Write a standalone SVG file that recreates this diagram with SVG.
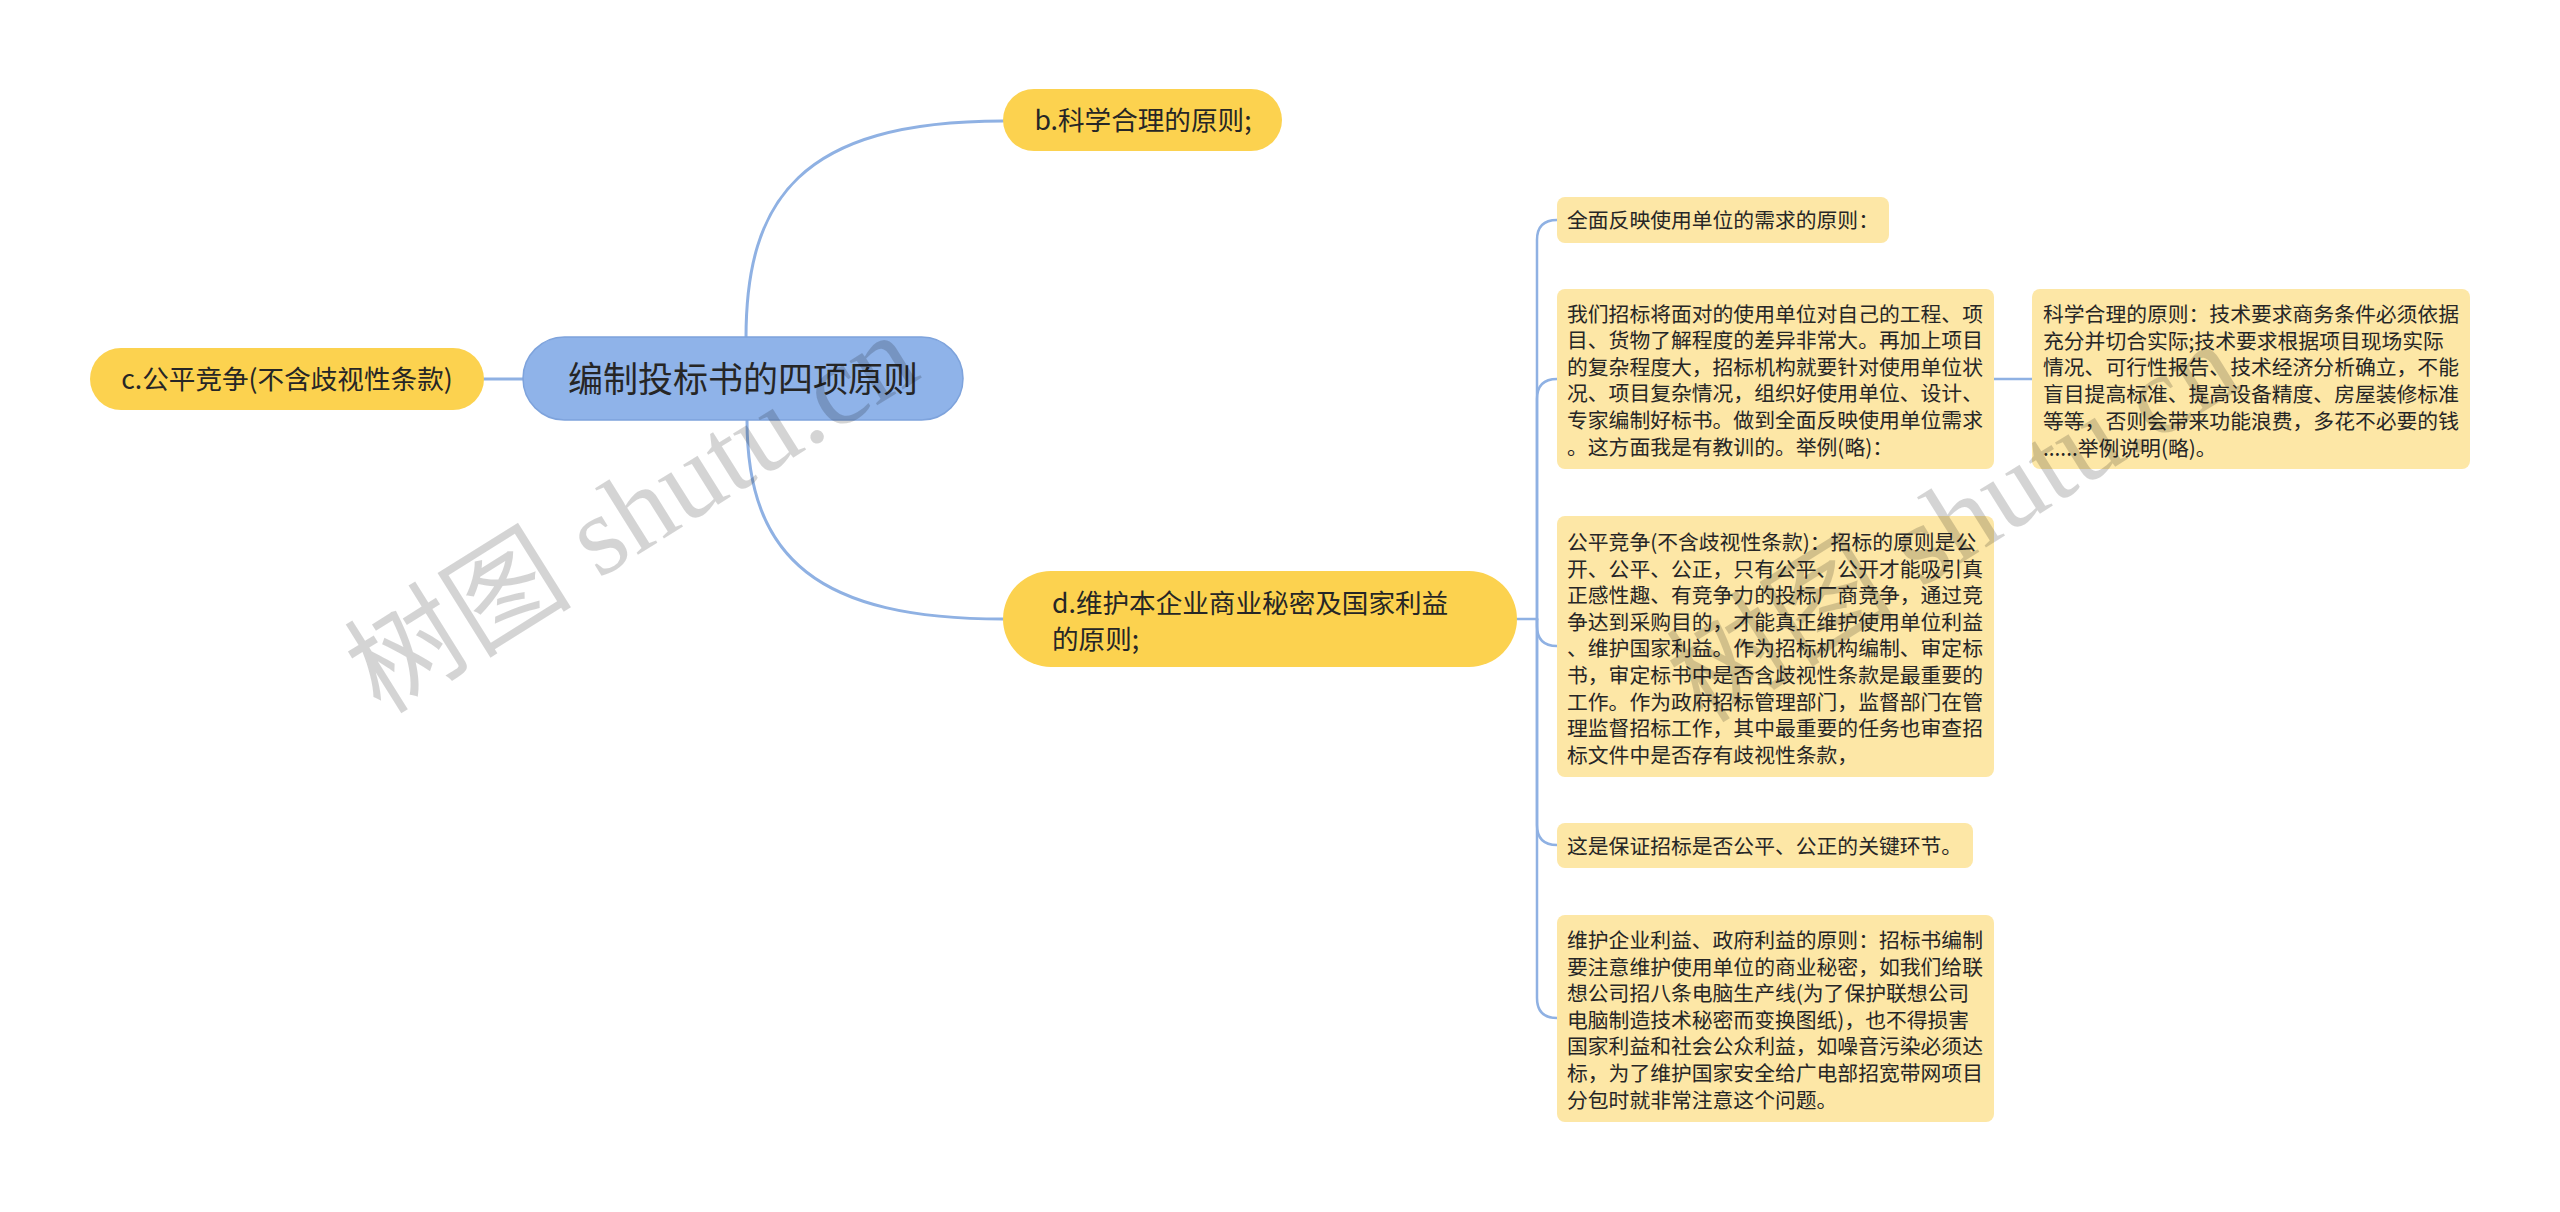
<svg xmlns="http://www.w3.org/2000/svg" width="2560" height="1212" viewBox="0 0 2560 1212">
<style>
.bg{fill:#ffffff}
.root{fill:#8fb3e9;stroke:#7ea3dc;stroke-width:1.5}
.branch{fill:#fcd24f}
.leaf{fill:#fde7a6}
.t{font-family:"Noto Sans CJK SC","Liberation Sans",sans-serif;fill:#262626}
.rt{font-size:35px}
.bt{font-size:26.6px}
.lt{font-size:20.8px}
.line{fill:none;stroke:#8fb1e3;stroke-width:3;stroke-linecap:round}
.thin{stroke-width:2.5}
.wm{font-family:"Liberation Serif","Noto Sans CJK SC",serif;font-size:114px;fill:#000;fill-opacity:0.17}
</style>
<rect class="bg" x="0" y="0" width="2560" height="1212"/>
<g id="connectors">
<path class="line" d="M484 379 L523 379"/>
<path class="line" d="M746 338 C746 200 800 121 1003 121"/>
<path class="line" d="M747 420 C747 560 820 619 1003 619"/>
<path class="line thin" d="M1517 619 H1537 V240 Q1537 220 1557 220"/>
<path class="line thin" d="M1537 619 V399 Q1537 379 1557 379"/>
<path class="line thin" d="M1537 619 V626 Q1537 646 1557 646"/>
<path class="line thin" d="M1537 619 V825 Q1537 845 1557 845"/>
<path class="line thin" d="M1537 619 V998 Q1537 1018 1557 1018"/>
<path class="line thin" d="M1994 379 L2032 379"/>
</g>
<g id="root">
<rect class="root" x="523" y="337" width="440" height="83" rx="41.5"/>
<text class="t rt" x="743" y="392" text-anchor="middle">编制投标书的四项原则</text>
</g>
<g id="node-c">
<rect class="branch" x="90" y="348" width="394" height="62" rx="31"/>
<text class="t bt" x="287" y="389" text-anchor="middle">c.公平竞争(不含歧视性条款)</text>
</g>
<g id="node-b">
<rect class="branch" x="1003" y="89" width="279" height="62" rx="31"/>
<text class="t bt" x="1143" y="130" text-anchor="middle">b.科学合理的原则;</text>
</g>
<g id="node-d">
<rect class="branch" x="1003" y="571" width="514" height="96" rx="48"/>
<text class="t bt" x="1052" y="613">d.维护本企业商业秘密及国家利益</text>
<text class="t bt" x="1052" y="649">的原则;</text>
</g>
<g id="leaf-1">
<rect class="leaf" x="1557" y="197" width="332" height="46" rx="8"/>
<text class="t lt" x="1567" y="228">全面反映使用单位的需求的原则：</text>
</g>
<g id="leaf-2">
<rect class="leaf" x="1557" y="289" width="437" height="180" rx="8"/>
<text class="t lt" x="1567" y="321.5">我们招标将面对的使用单位对自己的工程、项</text>
<text class="t lt" x="1567" y="348.1">目、货物了解程度的差异非常大。再加上项目</text>
<text class="t lt" x="1567" y="374.7">的复杂程度大，招标机构就要针对使用单位状</text>
<text class="t lt" x="1567" y="401.3">况、项目复杂情况，组织好使用单位、设计、</text>
<text class="t lt" x="1567" y="427.9">专家编制好标书。做到全面反映使用单位需求</text>
<text class="t lt" x="1567" y="454.5">。这方面我是有教训的。举例(略)：</text>
</g>
<g id="leaf-3">
<rect class="leaf" x="1557" y="516" width="437" height="261" rx="8"/>
<text class="t lt" x="1567" y="550">公平竞争(不含歧视性条款)：招标的原则是公</text>
<text class="t lt" x="1567" y="576.6">开、公平、公正，只有公平、公开才能吸引真</text>
<text class="t lt" x="1567" y="603.2">正感性趣、有竞争力的投标厂商竞争，通过竞</text>
<text class="t lt" x="1567" y="629.8">争达到采购目的，才能真正维护使用单位利益</text>
<text class="t lt" x="1567" y="656.4">、维护国家利益。作为招标机构编制、审定标</text>
<text class="t lt" x="1567" y="683">书，审定标书中是否含歧视性条款是最重要的</text>
<text class="t lt" x="1567" y="709.6">工作。作为政府招标管理部门，监督部门在管</text>
<text class="t lt" x="1567" y="736.2">理监督招标工作，其中最重要的任务也审查招</text>
<text class="t lt" x="1567" y="762.8">标文件中是否存有歧视性条款，</text>
</g>
<g id="leaf-4">
<rect class="leaf" x="1557" y="823" width="416" height="45" rx="8"/>
<text class="t lt" x="1567" y="854">这是保证招标是否公平、公正的关键环节。</text>
</g>
<g id="leaf-5">
<rect class="leaf" x="1557" y="915" width="437" height="207" rx="8"/>
<text class="t lt" x="1567" y="948">维护企业利益、政府利益的原则：招标书编制</text>
<text class="t lt" x="1567" y="974.6">要注意维护使用单位的商业秘密，如我们给联</text>
<text class="t lt" x="1567" y="1001.2">想公司招八条电脑生产线(为了保护联想公司</text>
<text class="t lt" x="1567" y="1027.8">电脑制造技术秘密而变换图纸)，也不得损害</text>
<text class="t lt" x="1567" y="1054.4">国家利益和社会公众利益，如噪音污染必须达</text>
<text class="t lt" x="1567" y="1081">标，为了维护国家安全给广电部招宽带网项目</text>
<text class="t lt" x="1567" y="1107.6">分包时就非常注意这个问题。</text>
</g>
<g id="leaf-6">
<rect class="leaf" x="2032" y="289" width="438" height="180" rx="8"/>
<text class="t lt" x="2043" y="322">科学合理的原则：技术要求商务条件必须依据</text>
<text class="t lt" x="2043" y="348.7">充分并切合实际;技术要求根据项目现场实际</text>
<text class="t lt" x="2043" y="375.4">情况、可行性报告、技术经济分析确立，不能</text>
<text class="t lt" x="2043" y="402.1">盲目提高标准、提高设备精度、房屋装修标准</text>
<text class="t lt" x="2043" y="428.8">等等，否则会带来功能浪费，多花不必要的钱</text>
<text class="t lt" x="2043" y="455.5">......举例说明(略)。</text>
</g>
<g id="watermark">
<text class="wm" text-anchor="middle" transform="translate(652 546) rotate(-32)">树图 shutu.cn</text>
<text class="wm" text-anchor="middle" transform="translate(1974 555) rotate(-32)">树图 shutu.cn</text>
</g>
</svg>
